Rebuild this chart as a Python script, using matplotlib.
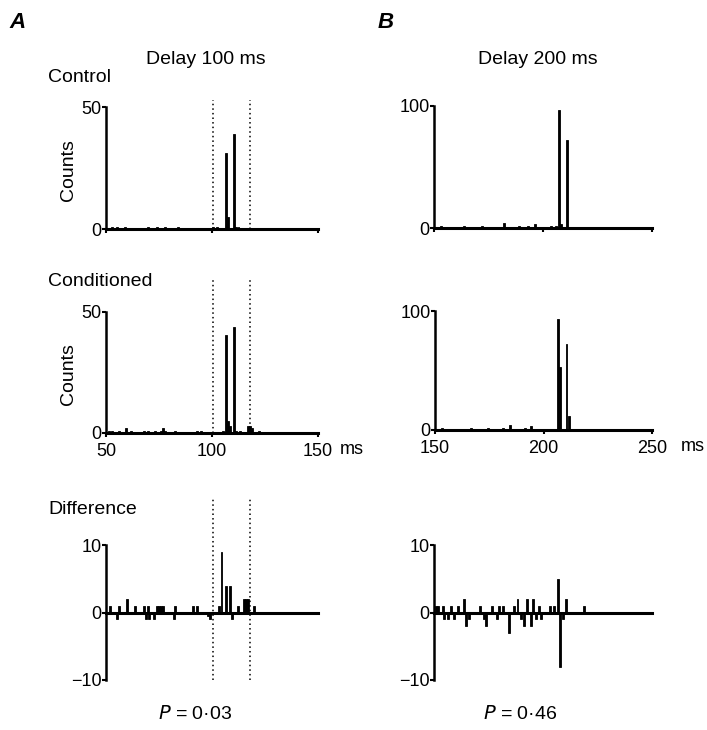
import matplotlib
matplotlib.use('Agg')
import matplotlib.pyplot as plt

plt.rcParams['font.family'] = ['Liberation Sans', 'DejaVu Sans']
plt.rcParams['font.size'] = 14

# Panel A (delay 100 ms): bin times (ms) and counts
ctrlA_t = [52.7, 55, 59, 70, 74, 78, 84, 97.5, 100.6, 102.2,
           106.5, 107.5, 110.4, 111.5, 112.5]
ctrlA_n = [1, 1, 1, 1, 1, 1, 1, 0.5, 1, 1,
           31, 5, 39, 1, 1]
condA_t = [51.5, 53, 56, 59.4, 62, 68, 70, 73, 76, 77, 78, 82.5, 92.8, 95,
           105, 106.5, 107.5, 108.5, 110.4, 111.5, 113, 117, 118, 119, 122]
condA_n = [1, 1, 1, 2, 1, 1, 1, 1, 1, 2, 1, 1, 1, 1,
           1, 40.5, 5, 3, 43.7, 1, 1, 3, 3, 2, 1]
diffA_t = [52, 55, 56, 59.7, 63.7, 68, 69, 70, 70.4, 72.8, 74, 75, 76, 77,
           82, 82.5, 91, 93, 98, 99, 103.5, 104.5, 106.6, 108.6, 109.4,
           112.4, 115, 116, 117, 120]
diffA_n = [1, -1, 1, 2, 1, 1, -1, 1, -1, -1, 1, 1, 1, 1,
           -1, 1, 1, 1, -0.5, -1, 1, 9, 4, 4, -1,
           1, 2, 2, 2, 1]

# Panel B (delay 200 ms)
ctrlB_t = [153.2, 157.8, 161.2, 163.9, 167, 171.9, 174.3, 176.9, 182, 184.5,
           188.8, 193, 196.3, 199.8, 203.7, 206, 207.3, 208.3, 210.8, 219]
ctrlB_n = [2, 1, 1, 2, 1, 2, 1, 1, 4, 1,
           2, 2, 3, -2, 2, 2, 97, 3, 72, 1]
condB_t = [153.2, 155.1, 158.9, 164.3, 166.7, 174.4, 181.3, 184.7, 191.3,
           194.1, 197.5, 206.6, 207.6, 210.6, 211.6]
condB_n = [2, 1, 1, 1, 2, 2, 2, 4, 2,
           3, 1, 93, 53, 72, 12]
diffB_t = [151, 152, 154, 154.8, 156.5, 158, 159, 161, 163.6, 164.8, 166,
           171, 172.8, 174, 176.7, 179, 180, 181.8, 184.4, 186.7, 188.3,
           189.8, 191.4, 192.6, 194.4, 195.5, 197, 198, 199, 203, 205,
           206.8, 207.9, 209, 210.6, 219]
diffB_n = [1, 1, 1, -1, -1, 1, -1, 1, 2, -2, -1,
           1, -1, -2, 1, -1, 1, 1, -3, 1, 2,
           -1, -2, 2, -2, 2, -1, 1, -1, 1, 1,
           5, -8, -1, 2, 1]

W, H = 707, 730
fig = plt.figure(figsize=(W / 100, H / 100), dpi=100)


def add_ax(left, top, right, bottom):
    return fig.add_axes([left / W, 1 - bottom / H, (right - left) / W,
                         (bottom - top) / H])


def style(ax, xlim, ylim, yticks, diff=False):
    ax.set_xlim(*xlim)
    ax.set_ylim(*ylim)
    for s in ['top', 'right']:
        ax.spines[s].set_visible(False)
    ax.spines['left'].set_linewidth(1.8)
    ax.spines['bottom'].set_linewidth(2.2)
    ax.set_yticks(yticks)
    ax.set_yticklabels([str(v).replace('-', '\u2212') for v in yticks])
    ax.tick_params(axis='y', length=3, width=1.5, pad=0, labelsize=13)
    ax.tick_params(axis='x', length=3, width=1.5, pad=4, labelsize=13)
    if diff:
        ax.spines['bottom'].set_position(('data', 0))
        ax.set_xticks([])


def bars(ax, t, n):
    ax.bar(t, n, width=0.9, color='black', edgecolor='black', linewidth=0.6)


def dotted(ax, xs, y0, y1):
    for x in xs:
        ax.plot([x, x], [y0, y1], transform=ax.get_xaxis_transform(),
                color='black', linestyle=(0, (1, 2)), linewidth=1.1,
                clip_on=False)


# Panel A
axA1 = add_ax(106, 107, 318, 229)
bars(axA1, ctrlA_t, ctrlA_n)
style(axA1, (50, 150), (0, 50), [0, 50])
axA1.set_xticks([50, 100, 150])
axA1.set_xticklabels([])
dotted(axA1, [100.5, 118], 0, 1.06)
axA1.set_ylabel('Counts')
axA1.yaxis.set_label_coords(-0.135, 0.48)

axA2 = add_ax(106, 312, 318, 433)
bars(axA2, condA_t, condA_n)
style(axA2, (50, 150), (0, 50), [0, 50])
axA2.set_xticks([50, 100, 150])
axA2.set_xticklabels(['50', '100', '150'])
dotted(axA2, [100.5, 118], 0, 1.27)
axA2.set_ylabel('Counts')
axA2.yaxis.set_label_coords(-0.135, 0.49)
axA2.annotate('ms', xy=(1, 0), xycoords='axes fraction', xytext=(16, -6),
              textcoords='offset points', ha='left', va='top', fontsize=13)

axA3 = add_ax(106, 545, 318, 680)
bars(axA3, diffA_t, diffA_n)
style(axA3, (50, 150), (-10, 10), [-10, 0, 10], diff=True)
dotted(axA3, [100.5, 118], 0.0, 1.35)

# Panel B
axB1 = add_ax(434, 106, 652, 228)
bars(axB1, ctrlB_t, ctrlB_n)
style(axB1, (150, 250), (0, 100), [0, 100])
axB1.set_xticks([150, 200, 250])
axB1.set_xticklabels([])

axB2 = add_ax(435, 311, 652, 430)
bars(axB2, condB_t, condB_n)
style(axB2, (150, 250), (0, 100), [0, 100])
axB2.set_xticks([150, 200, 250])
axB2.set_xticklabels(['150', '200', '250'])
axB2.annotate('ms', xy=(1, 0), xycoords='axes fraction', xytext=(21, -6),
              textcoords='offset points', ha='left', va='top', fontsize=13)

axB3 = add_ax(434, 545, 652, 680)
bars(axB3, diffB_t, diffB_n)
style(axB3, (150, 250), (-10, 10), [-10, 0, 10], diff=True)

# Labels
fig.text(9 / W, 1 - 22 / H, 'A', fontsize=16, fontweight='bold',
         fontstyle='italic', va='center')
fig.text(378 / W, 1 - 22 / H, 'B', fontsize=16, fontweight='bold',
         fontstyle='italic', va='center')
fig.text(206 / W, 1 - 60 / H, 'Delay 100 ms', ha='center', va='center')
fig.text(538 / W, 1 - 60 / H, 'Delay 200 ms', ha='center', va='center')
fig.text(48 / W, 1 - 78 / H, 'Control', va='center')
fig.text(48 / W, 1 - 281 / H, 'Conditioned', va='center')
fig.text(48 / W, 1 - 510 / H, 'Difference', va='center')
fig.text(195 / W, 1 - 714 / H, '$\\it{P}$ = 0\u00b703', ha='center',
         va='center')
fig.text(520 / W, 1 - 714 / H, '$\\it{P}$ = 0\u00b746', ha='center',
         va='center')

fig.savefig('out.png', dpi=100)
